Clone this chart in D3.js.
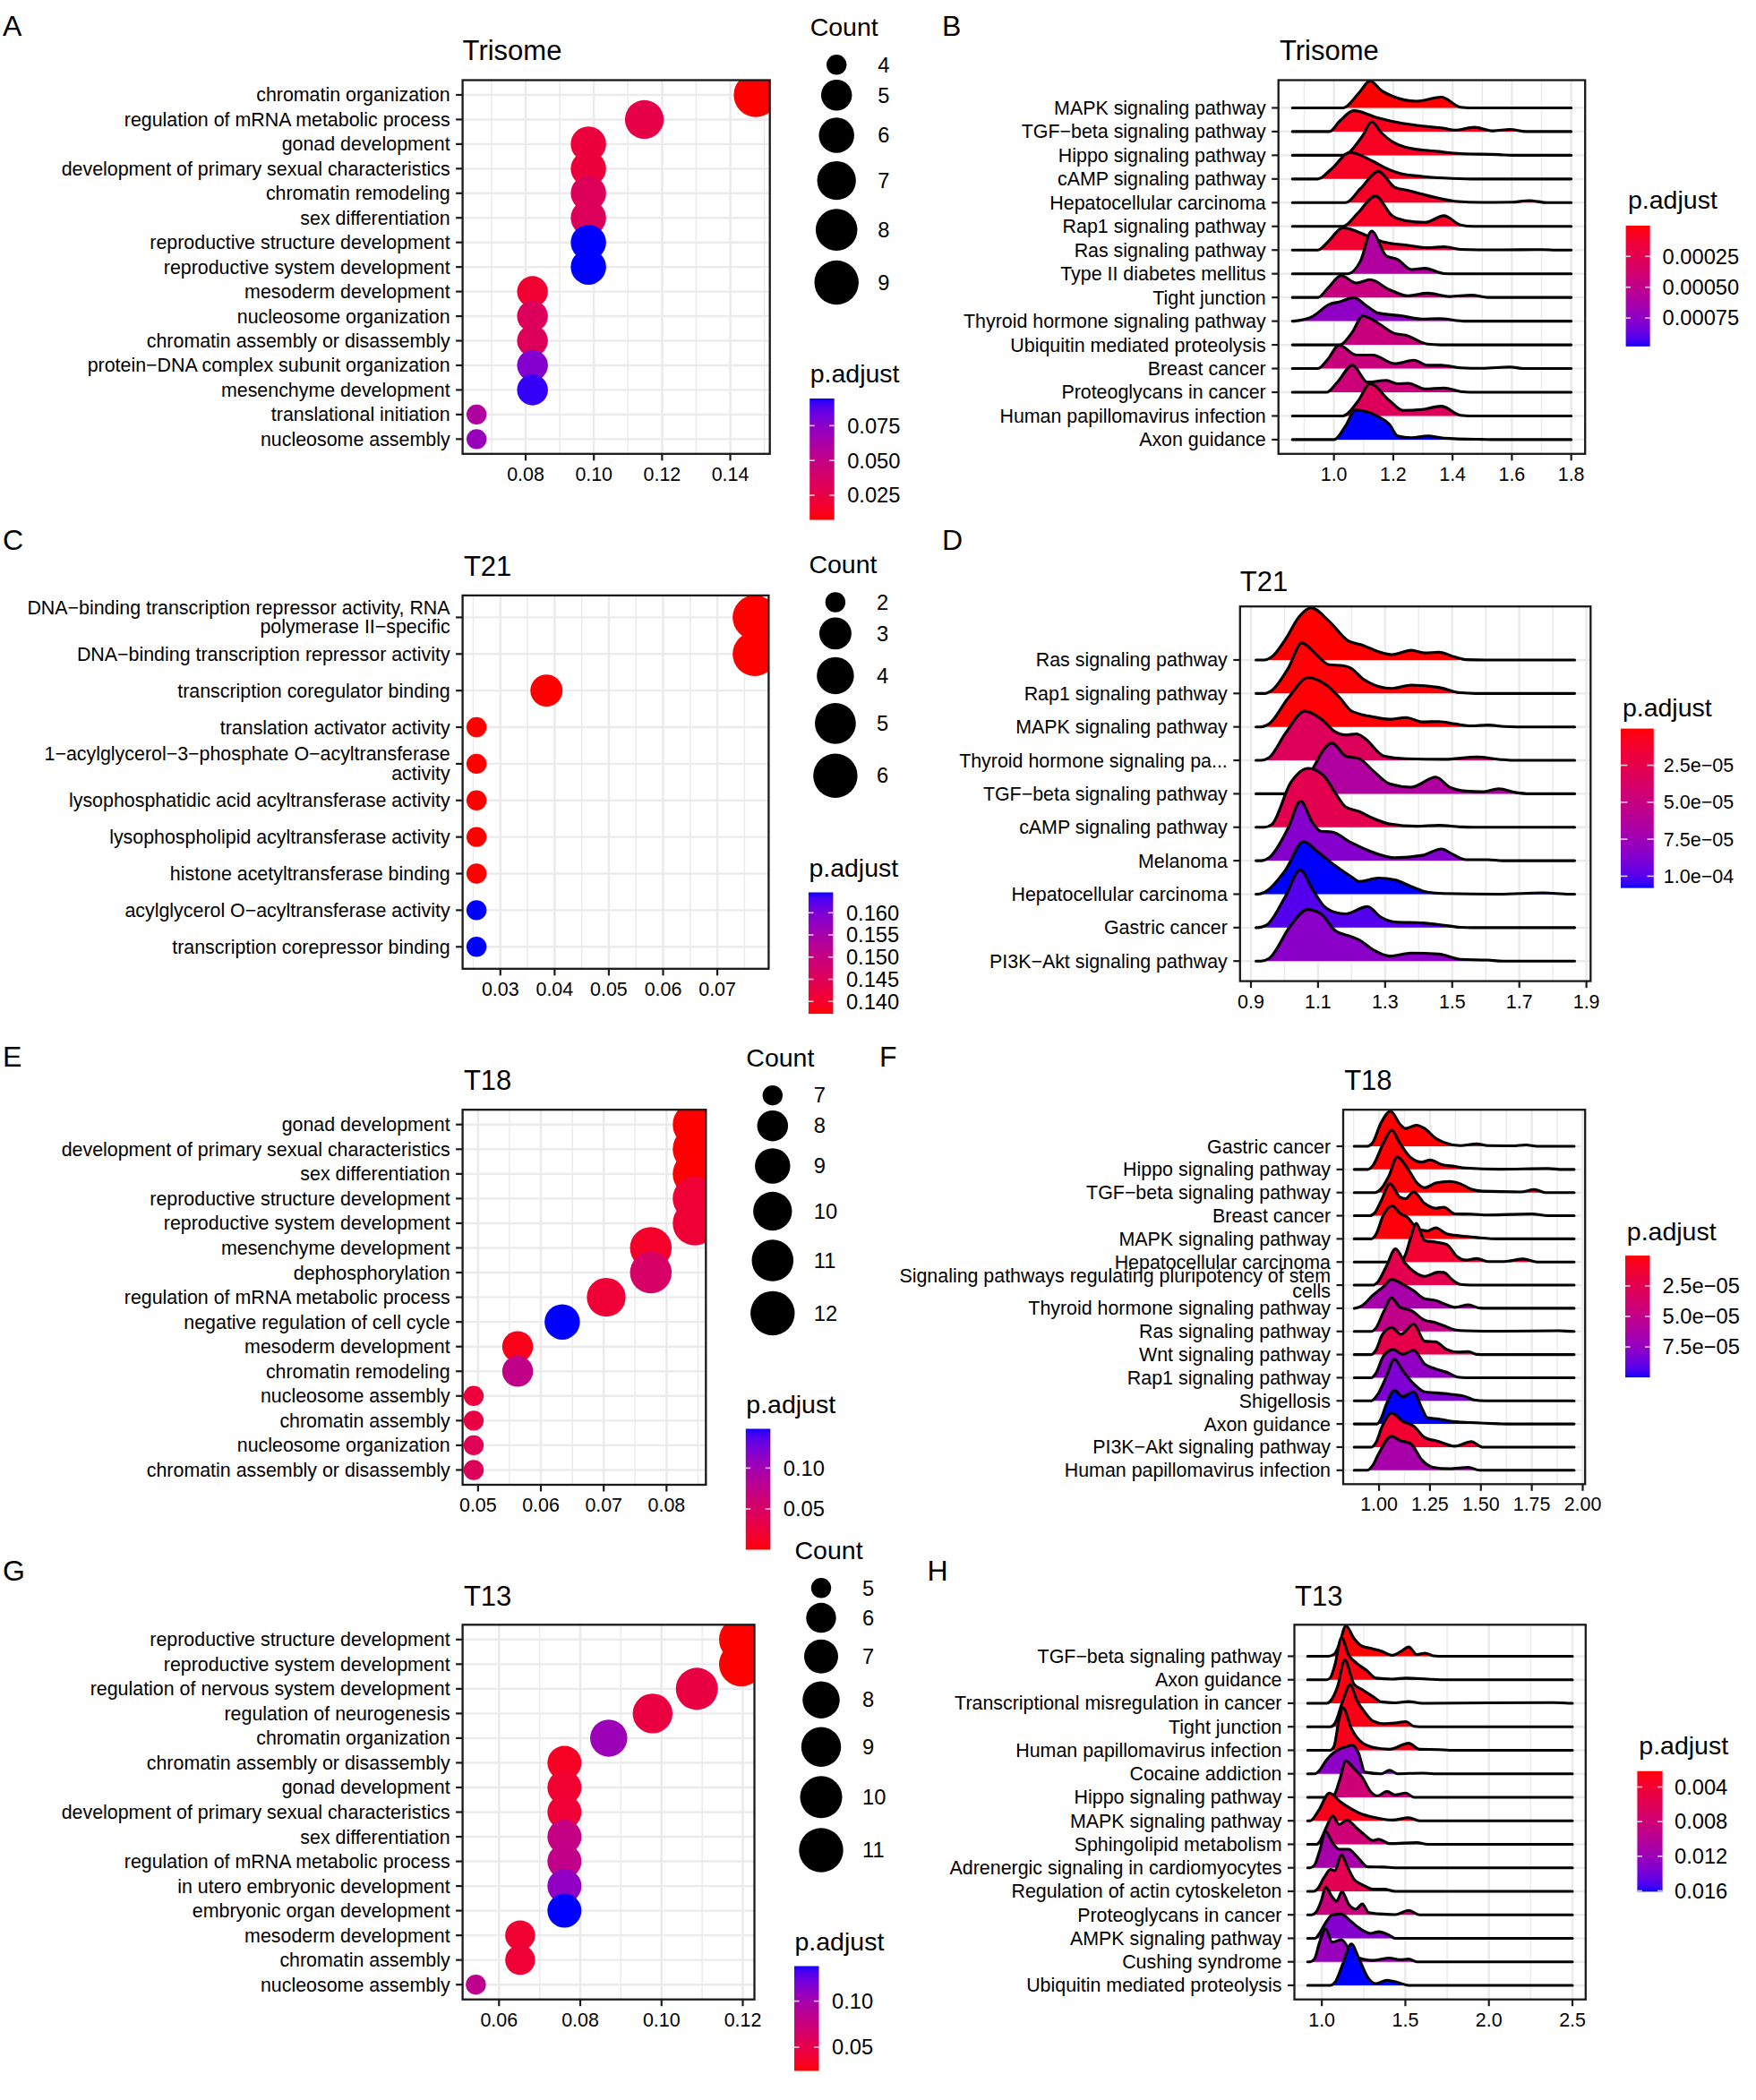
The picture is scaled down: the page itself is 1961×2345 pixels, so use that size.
<!DOCTYPE html>
<html>
<head>
<meta charset="utf-8">
<script src="https://cdnjs.cloudflare.com/ajax/libs/d3/7.8.5/d3.min.js"></script>
<style>html,body{margin:0;padding:0;background:#fff;}svg{display:block;}</style>
</head>
<body>
<script>
// ================= DATA =================
// ---- A: Trisome GO dotplot ----
const trisomeGoTerms = ["chromatin organization","regulation of mRNA metabolic process","gonad development","development of primary sexual characteristics","chromatin remodeling","sex differentiation","reproductive structure development","reproductive system development","mesoderm development","nucleosome organization","chromatin assembly or disassembly","protein\u2212DNA complex subunit organization","mesenchyme development","translational initiation","nucleosome assembly"];
const trisomeGoRatio = [0.1475,0.1148,0.0984,0.0984,0.0984,0.0984,0.0984,0.0984,0.0820,0.0820,0.0820,0.0820,0.0820,0.0656,0.0656];
const trisomeGoCount = [9,7,6,6,6,6,6,6,5,5,5,5,5,4,4];
const trisomeGoPadj = [0.0074,0.0266,0.0222,0.0222,0.0335,0.0335,0.0945,0.0945,0.0187,0.0335,0.0335,0.0771,0.0919,0.0597,0.0701];
const trisomeGoTicks = [0.08,0.10,0.12,0.14];
const trisomeGoCountBreaks = [4,5,6,7,8,9];
const trisomeGoPadjBreaks = [0.025,0.05,0.075];
const trisomeGoPadjLabels = ["0.025","0.050","0.075"];

// ---- B: Trisome KEGG ridgeplot ----
const trisomeKeggPathways = ["MAPK signaling pathway","TGF\u2212beta signaling pathway","Hippo signaling pathway","cAMP signaling pathway","Hepatocellular carcinoma","Rap1 signaling pathway","Ras signaling pathway","Type II diabetes mellitus","Tight junction","Thyroid hormone signaling pathway","Ubiquitin mediated proteolysis","Breast cancer","Proteoglycans in cancer","Human papillomavirus infection","Axon guidance"];
const trisomeKeggPadj = [0.000001,0.00005,0.00007,0.00008,0.00009,0.00008,0.00013,0.00059,0.00046,0.00074,0.00044,0.00044,0.00042,0.00029,0.00098];
const trisomeKeggRange = [0.86,1.80];
const trisomeKeggDensity = [
 [[1.03,0],[1.085,0.64],[1.122,1.14],[1.159,0.74],[1.196,0.5],[1.279,0.28],[1.362,0.45],[1.427,0.03],[1.46,0]],
 [[0.985,0],[1.02,0.45],[1.067,0.88],[1.15,0.57],[1.196,0.43],[1.279,0.26],[1.371,0.14],[1.408,0.06],[1.473,0.18],[1.538,0.03],[1.593,0.09],[1.648,0]],
 [[1.03,0],[1.098,0.85],[1.127,1.41],[1.16,0.95],[1.196,0.58],[1.242,0.34],[1.353,0.16],[1.427,0.07],[1.556,0.03],[1.6,0]],
 [[0.946,0],[0.99,0.4],[1.054,1.12],[1.131,0.75],[1.168,0.5],[1.224,0.23],[1.297,0.11],[1.371,0.04],[1.464,0]],
 [[1.039,0],[1.09,0.6],[1.15,1.32],[1.205,0.65],[1.251,0.51],[1.316,0.3],[1.408,0.06],[1.5,0.01],[1.6,0.02],[1.658,0.09],[1.72,0]],
 [[1.03,0],[1.08,0.55],[1.14,1.28],[1.196,0.45],[1.242,0.24],[1.307,0.17],[1.371,0.45],[1.427,0.06],[1.47,0]],
 [[0.946,0],[0.98,0.35],[1.03,0.94],[1.113,0.6],[1.168,0.34],[1.251,0.2],[1.316,0.1],[1.371,0.14],[1.427,0.03],[1.55,0.01],[1.704,0.02],[1.75,0]],
 [[1.048,0],[1.09,0.55],[1.127,1.8],[1.177,0.75],[1.214,0.61],[1.261,0.18],[1.307,0.23],[1.371,0.01],[1.41,0]],
 [[0.946,0],[0.98,0.4],[1.024,0.92],[1.076,0.61],[1.122,0.75],[1.187,0.33],[1.251,0.07],[1.316,0.18],[1.39,0.04],[1.464,0.1],[1.519,0]],
 [[0.87,0.01],[0.928,0.2],[0.983,0.7],[1.02,0.82],[1.067,0.99],[1.113,0.62],[1.15,0.34],[1.224,0.23],[1.297,0.09],[1.353,0.11],[1.445,0]],
 [[1.02,0],[1.06,0.5],[1.098,1.22],[1.15,0.91],[1.205,0.48],[1.242,0.41],[1.316,0.03],[1.36,0]],
 [[0.946,0],[0.98,0.4],[1.017,0.99],[1.076,0.57],[1.131,0.57],[1.205,0.21],[1.27,0.35],[1.316,0.14],[1.362,0.14],[1.427,0.03],[1.5,0.01],[1.593,0.07],[1.64,0]],
 [[0.975,0],[1.01,0.4],[1.063,1.14],[1.113,0.43],[1.177,0.5],[1.214,0.36],[1.251,0.38],[1.307,0.14],[1.371,0.18],[1.427,0.03],[1.46,0]],
 [[1.03,0],[1.08,0.6],[1.122,1.36],[1.187,0.65],[1.233,0.23],[1.297,0.27],[1.362,0.41],[1.427,0.03],[1.46,0]],
 [[1.0,0],[1.04,0.6],[1.072,1.25],[1.15,0.97],[1.187,0.65],[1.214,0.16],[1.261,0.08],[1.316,0.16],[1.371,0.06],[1.5,0.01],[1.55,0]]
];
const trisomeKeggTicks = [1.0,1.2,1.4,1.6,1.8];
const trisomeKeggPadjBreaks = [0.00025,0.0005,0.00075];
const trisomeKeggPadjLabels = ["0.00025","0.00050","0.00075"];

// ---- C: T21 GO dotplot ----
const t21GoTerms = ["DNA\u2212binding transcription repressor activity, RNA\npolymerase II\u2212specific","DNA\u2212binding transcription repressor activity","transcription coregulator binding","translation activator activity","1\u2212acylglycerol\u22123\u2212phosphate O\u2212acyltransferase\nactivity","lysophosphatidic acid acyltransferase activity","lysophospholipid acyltransferase activity","histone acetyltransferase binding","acylglycerol O\u2212acyltransferase activity","transcription corepressor binding"];
const t21GoRatio = [0.0769,0.0769,0.0385,0.0256,0.0256,0.0256,0.0256,0.0256,0.0256,0.0256];
const t21GoCount = [6,6,3,2,2,2,2,2,2,2];
const t21GoPadj = [0.1372,0.1372,0.1372,0.1372,0.1372,0.1372,0.1372,0.1372,0.1646,0.1646];
const t21GoTicks = [0.03,0.04,0.05,0.06,0.07];
const t21GoCountBreaks = [2,3,4,5,6];
const t21GoPadjBreaks = [0.14,0.145,0.15,0.155,0.16];
const t21GoPadjLabels = ["0.140","0.145","0.150","0.155","0.160"];

// ---- D: T21 KEGG ridgeplot ----
const t21KeggPathways = ["Ras signaling pathway","Rap1 signaling pathway","MAPK signaling pathway","Thyroid hormone signaling pa...","TGF\u2212beta signaling pathway","cAMP signaling pathway","Melanoma","Hepatocellular carcinoma","Gastric cancer","PI3K\u2212Akt signaling pathway"];
const t21KeggPadj = [0.0000002,0.000001,0.000001,0.000032,0.000065,0.000027,0.000086,0.000108,0.000100,0.000084];
const t21KeggRange = [0.915,1.865];
const t21KeggDensity = [
 [[0.94,0],[0.962,0.09],[1.003,0.62],[1.044,1.30],[1.079,1.56],[1.133,1.16],[1.190,0.57],[1.231,0.45],[1.280,0.25],[1.321,0.16],[1.378,0.29],[1.419,0.21],[1.460,0.23],[1.508,0.09],[1.541,0.01],[1.6,0]],
 [[0.94,0],[0.962,0.09],[1.011,0.75],[1.052,1.51],[1.092,1.19],[1.133,0.86],[1.174,0.83],[1.199,0.75],[1.231,0.46],[1.280,0.21],[1.321,0.15],[1.378,0.25],[1.460,0.18],[1.525,0.02],[1.57,0]],
 [[0.93,0],[0.954,0.09],[1.011,0.86],[1.071,1.47],[1.125,1.25],[1.166,0.86],[1.199,0.48],[1.264,0.30],[1.313,0.23],[1.362,0.28],[1.411,0.15],[1.460,0.16],[1.508,0.09],[1.557,0.03],[1.606,0.06],[1.655,0.01],[1.69,0]],
 [[0.93,0],[0.954,0.08],[1.003,0.81],[1.060,1.47],[1.109,1.24],[1.150,0.86],[1.182,0.76],[1.215,0.79],[1.239,0.66],[1.296,0.13],[1.362,0.05],[1.476,0.03],[1.574,0.10],[1.639,0.03],[1.68,0]],
 [[1.0,0],[1.044,0.3],[1.084,0.75],[1.117,1.32],[1.141,1.52],[1.182,1.13],[1.223,1.05],[1.264,0.69],[1.313,0.30],[1.378,0.2],[1.451,0.5],[1.492,0.2],[1.541,0.08],[1.590,0.06],[1.639,0.15],[1.688,0.04],[1.73,0]],
 [[0.94,0],[0.962,0.08],[1.019,1.34],[1.071,1.76],[1.117,1.54],[1.150,1.05],[1.182,0.61],[1.223,0.47],[1.264,0.27],[1.313,0.10],[1.394,0.03],[1.460,0.06],[1.525,0.01],[1.56,0]],
 [[0.93,0],[0.954,0.09],[1.011,0.98],[1.048,1.78],[1.084,1.13],[1.109,0.88],[1.141,0.86],[1.199,0.54],[1.264,0.25],[1.329,0.09],[1.411,0.16],[1.468,0.35],[1.500,0.20],[1.541,0.03],[1.606,0.03],[1.65,0]],
 [[0.92,0],[0.946,0.09],[1.003,0.72],[1.057,1.57],[1.101,1.25],[1.150,0.86],[1.199,0.52],[1.223,0.38],[1.280,0.48],[1.329,0.43],[1.378,0.23],[1.427,0.06],[1.476,0.02],[1.639,0.0],[1.770,0.04],[1.85,0]],
 [[0.92,0],[0.946,0.07],[1.003,0.94],[1.047,1.72],[1.084,1.14],[1.117,0.65],[1.150,0.46],[1.182,0.41],[1.247,0.63],[1.288,0.31],[1.329,0.17],[1.411,0.14],[1.476,0.07],[1.525,0.01],[1.56,0]],
 [[0.93,0],[0.954,0.08],[1.019,1.07],[1.068,1.54],[1.109,1.41],[1.150,0.92],[1.199,0.73],[1.223,0.63],[1.264,0.34],[1.313,0.15],[1.378,0.24],[1.460,0.21],[1.525,0.05],[1.606,0.03],[1.65,0]]
];
const t21KeggTicks = [0.9,1.1,1.3,1.5,1.7,1.9];
const t21KeggPadjBreaks = [0.000025,0.00005,0.000075,0.0001];
const t21KeggPadjLabels = ["2.5e\u221205","5.0e\u221205","7.5e\u221205","1.0e\u221204"];

// ---- E: T18 GO dotplot ----
const t18GoTerms = ["gonad development","development of primary sexual characteristics","sex differentiation","reproductive structure development","reproductive system development","mesenchyme development","dephosphorylation","regulation of mRNA metabolic process","negative regulation of cell cycle","mesoderm development","chromatin remodeling","nucleosome assembly","chromatin assembly","nucleosome organization","chromatin assembly or disassembly"];
const t18GoRatio = [0.0845,0.0845,0.0845,0.0845,0.0845,0.0775,0.0775,0.0704,0.0634,0.0563,0.0563,0.0493,0.0493,0.0493,0.0493];
const t18GoCount = [12,12,12,12,12,11,11,10,9,8,8,7,7,7,7];
const t18GoPadj = [0.0002,0.0003,0.0006,0.0220,0.0225,0.0150,0.0520,0.0220,0.1480,0.0074,0.0740,0.0250,0.0300,0.0410,0.0440];
const t18GoTicks = [0.05,0.06,0.07,0.08];
const t18GoCountBreaks = [7,8,9,10,11,12];
const t18GoPadjBreaks = [0.05,0.10];
const t18GoPadjLabels = ["0.05","0.10"];

// ---- F: T18 KEGG ridgeplot ----
const t18KeggPathways = ["Gastric cancer","Hippo signaling pathway","TGF\u2212beta signaling pathway","Breast cancer","MAPK signaling pathway","Hepatocellular carcinoma","Signaling pathways regulating pluripotency of stem\ncells","Thyroid hormone signaling pathway","Ras signaling pathway","Wnt signaling pathway","Rap1 signaling pathway","Shigellosis","Axon guidance","PI3K\u2212Akt signaling pathway","Human papillomavirus infection"];
const t18KeggPadj = [0.0000001,0.000001,0.000001,0.000001,0.000002,0.000012,0.000025,0.000065,0.000050,0.000023,0.000075,0.000082,0.000100,0.000012,0.000065];
const t18KeggRange = [0.878,1.958];
const t18KeggDensity = [
 [[0.94,0],[0.968,0.15],[1.008,0.98],[1.057,1.52],[1.102,0.96],[1.129,0.77],[1.183,0.91],[1.224,0.77],[1.278,0.35],[1.318,0.17],[1.399,0.03],[1.480,0.11],[1.534,0.03],[1.655,0.02],[1.722,0.06],[1.776,0]],
 [[0.946,0],[0.968,0.15],[1.022,1.14],[1.062,1.70],[1.102,1.14],[1.156,0.51],[1.210,0.32],[1.251,0.41],[1.305,0.22],[1.372,0.13],[1.426,0.06],[1.588,0.01],[1.830,0.04],[1.9,0]],
 [[0.98,0],[1.008,0.15],[1.049,0.73],[1.089,1.54],[1.143,1.01],[1.183,0.45],[1.224,0.21],[1.278,0.41],[1.345,0.48],[1.399,0.38],[1.453,0.14],[1.507,0.06],[1.695,0.03],[1.763,0.13],[1.817,0]],
 [[0.954,0],[0.981,0.15],[1.008,0.6],[1.054,1.38],[1.102,0.81],[1.129,0.74],[1.170,1.03],[1.224,0.53],[1.278,0.32],[1.318,0.37],[1.372,0.08],[1.453,0.07],[1.534,0.03],[1.749,0.08],[1.83,0]],
 [[0.962,0],[0.985,0.2],[1.022,1.04],[1.065,1.43],[1.102,1.11],[1.143,0.9],[1.183,0.48],[1.237,0.34],[1.278,0.48],[1.332,0.22],[1.399,0.13],[1.480,0.06],[1.588,0]],
 [[1.1,0],[1.129,0.3],[1.156,1.07],[1.183,1.67],[1.224,0.93],[1.278,0.86],[1.332,0.76],[1.385,0.22],[1.426,0.08],[1.480,0.15],[1.534,0.02],[1.615,0.02],[1.709,0.13],[1.776,0]],
 [[0.97,0],[0.995,0.15],[1.035,0.8],[1.081,1.57],[1.129,0.94],[1.170,0.59],[1.224,0.38],[1.291,0.56],[1.318,0.55],[1.358,0.24],[1.399,0.03],[1.45,0]],
 [[0.885,0.01],[0.914,0.1],[0.968,0.55],[1.022,0.94],[1.062,1.25],[1.116,1.04],[1.170,0.76],[1.224,0.41],[1.278,0.34],[1.318,0.2],[1.372,0.04],[1.439,0.15],[1.493,0.01],[1.53,0]],
 [[0.962,0],[0.985,0.15],[1.022,0.84],[1.062,1.45],[1.102,1.05],[1.156,0.91],[1.224,0.49],[1.278,0.38],[1.318,0.25],[1.372,0.07],[1.426,0.03],[1.6,0.01],[1.884,0.03],[1.95,0]],
 [[0.962,0],[0.985,0.2],[1.016,0.86],[1.062,1.17],[1.108,0.88],[1.170,1.32],[1.224,0.58],[1.278,0.55],[1.332,0.22],[1.385,0.11],[1.439,0.13],[1.480,0.01],[1.52,0]],
 [[0.962,0],[0.985,0.2],[1.022,0.94],[1.070,1.22],[1.116,1.01],[1.170,1.19],[1.224,0.59],[1.278,0.38],[1.332,0.24],[1.385,0.03],[1.43,0]],
 [[0.962,0],[0.995,0.3],[1.035,1.03],[1.075,1.8],[1.116,1.31],[1.170,0.74],[1.224,0.39],[1.278,0.35],[1.345,0.29],[1.426,0.18],[1.466,0.04],[1.52,0]],
 [[0.99,0],[1.008,0.2],[1.035,0.83],[1.075,1.46],[1.116,1.18],[1.170,1.39],[1.210,0.69],[1.237,0.27],[1.291,0.22],[1.345,0.13],[1.453,0.06],[1.588,0.01],[1.64,0]],
 [[0.962,0],[0.985,0.2],[1.016,0.91],[1.062,1.47],[1.116,1.12],[1.170,0.91],[1.224,0.42],[1.291,0.25],[1.372,0.04],[1.453,0.24],[1.507,0],[1.55,0]],
 [[0.941,0],[0.968,0.2],[0.995,0.66],[1.062,1.47],[1.102,1.29],[1.156,1.15],[1.210,0.45],[1.264,0.13],[1.345,0.07],[1.439,0.13],[1.493,0],[1.54,0]]
];
const t18KeggTicks = [1.0,1.25,1.5,1.75,2.0];
const t18KeggPadjBreaks = [0.000025,0.00005,0.000075];
const t18KeggPadjLabels = ["2.5e\u221205","5.0e\u221205","7.5e\u221205"];

// ---- G: T13 GO dotplot ----
const t13GoTerms = ["reproductive structure development","reproductive system development","regulation of nervous system development","regulation of neurogenesis","chromatin organization","chromatin assembly or disassembly","gonad development","development of primary sexual characteristics","sex differentiation","regulation of mRNA metabolic process","in utero embryonic development","embryonic organ development","mesoderm development","chromatin assembly","nucleosome assembly"];
const t13GoRatio = [0.1196,0.1196,0.1087,0.0978,0.0870,0.0761,0.0761,0.0761,0.0761,0.0761,0.0761,0.0761,0.0652,0.0652,0.0543];
const t13GoCount = [11,11,10,9,8,7,7,7,7,7,7,7,6,6,5];
const t13GoPadj = [0.0243,0.0243,0.0470,0.0459,0.1039,0.0334,0.0391,0.0414,0.0789,0.0812,0.1096,0.1380,0.0391,0.0414,0.0834];
const t13GoTicks = [0.06,0.08,0.10,0.12];
const t13GoCountBreaks = [5,6,7,8,9,10,11];
const t13GoPadjBreaks = [0.05,0.10];
const t13GoPadjLabels = ["0.05","0.10"];

// ---- H: T13 KEGG ridgeplot ----
const t13KeggPathways = ["TGF\u2212beta signaling pathway","Axon guidance","Transcriptional misregulation in cancer","Tight junction","Human papillomavirus infection","Cocaine addiction","Hippo signaling pathway","MAPK signaling pathway","Sphingolipid metabolism","Adrenergic signaling in cardiomyocytes","Regulation of actin cytoskeleton","Proteoglycans in cancer","AMPK signaling pathway","Cushing syndrome","Ubiquitin mediated proteolysis"];
const t13KeggPadj = [0.00217,0.0026,0.0026,0.0027,0.0028,0.0129,0.0080,0.0029,0.0080,0.0112,0.0057,0.0084,0.0133,0.0122,0.0161];
const t13KeggRange = [0.915,2.5];
const t13KeggDensity = [
 [[1.04,0],[1.075,0.1],[1.105,0.52],[1.144,1.3],[1.193,0.75],[1.235,0.45],[1.291,0.34],[1.356,0.22],[1.422,0.04],[1.471,0.19],[1.520,0.4],[1.569,0.07],[1.618,0.13],[1.667,0.02],[1.732,0]],
 [[1.03,0],[1.052,0.1],[1.078,0.63],[1.118,1.79],[1.160,1.07],[1.209,0.70],[1.268,0.40],[1.324,0.07],[1.422,0.03],[1.503,0.07],[1.634,0.03],[1.73,0]],
 [[1.03,0],[1.052,0.1],[1.095,0.73],[1.137,1.84],[1.193,0.81],[1.242,0.58],[1.307,0.28],[1.356,0.06],[1.438,0.02],[1.520,0.07],[1.601,0.0],[2.386,0.03],[2.48,0]],
 [[1.05,0],[1.078,0.15],[1.127,1.13],[1.170,1.79],[1.209,1.13],[1.258,0.61],[1.307,0.24],[1.373,0.13],[1.438,0.16],[1.503,0.22],[1.552,0.02],[1.62,0]],
 [[1.05,0],[1.072,0.15],[1.105,1.39],[1.127,1.81],[1.176,0.94],[1.225,0.42],[1.307,0.12],[1.405,0.04],[1.520,0.3],[1.585,0.04],[1.699,0.03],[1.765,0]],
 [[0.96,0],[0.98,0.1],[1.029,0.6],[1.072,0.9],[1.111,1.07],[1.150,1.16],[1.183,1.22],[1.219,0.9],[1.258,0.07],[1.356,0.0],[1.405,0.15],[1.454,0.0],[1.601,0.03],[1.667,0]],
 [[1.05,0],[1.078,0.15],[1.105,0.7],[1.144,1.55],[1.193,1.22],[1.242,0.85],[1.291,0.25],[1.333,0.06],[1.389,0.25],[1.438,0.1],[1.503,0.18],[1.552,0],[1.6,0]],
 [[0.93,0],[0.98,0.43],[1.046,1.18],[1.111,0.81],[1.176,0.51],[1.225,0.33],[1.275,0.21],[1.324,0.13],[1.422,0.03],[1.520,0.13],[1.585,0],[1.63,0]],
 [[0.97,0],[0.99,0.15],[1.029,0.76],[1.065,1.21],[1.105,0.84],[1.150,1.03],[1.209,0.69],[1.258,0.39],[1.307,0.16],[1.340,0.22],[1.405,0.03],[1.569,0.07],[1.634,0]],
 [[0.93,0],[0.955,0.1],[0.987,0.72],[1.023,1.54],[1.062,1.09],[1.105,0.79],[1.160,0.79],[1.209,0.49],[1.275,0.04],[1.373,0.03],[1.438,0]],
 [[0.95,0],[0.974,0.1],[1.013,0.58],[1.052,0.93],[1.078,0.88],[1.118,1.55],[1.150,1.1],[1.193,0.51],[1.242,0.28],[1.307,0.09],[1.373,0.09],[1.438,0]],
 [[0.94,0],[0.964,0.1],[0.997,0.61],[1.023,1.18],[1.062,0.76],[1.088,0.58],[1.121,0.99],[1.160,0.46],[1.203,0.24],[1.242,0.46],[1.281,0.09],[1.340,0.04],[1.438,0.01],[1.520,0.19],[1.585,0],[1.63,0]],
 [[0.96,0],[0.98,0.15],[1.029,0.73],[1.062,1.0],[1.118,1.03],[1.160,0.81],[1.225,0.43],[1.291,0.21],[1.340,0.28],[1.405,0.13],[1.438,0.0],[1.48,0]],
 [[0.93,0],[0.954,0.1],[0.987,0.84],[1.023,1.4],[1.062,0.84],[1.118,0.94],[1.176,0.39],[1.242,0.12],[1.307,0.06],[1.405,0.16],[1.471,0.09],[1.520,0.12],[1.569,0],[1.62,0]],
 [[1.05,0],[1.078,0.12],[1.127,0.94],[1.176,1.76],[1.225,1.09],[1.275,0.34],[1.324,0.07],[1.389,0.22],[1.454,0.12],[1.520,0],[1.57,0]]
];
const t13KeggTicks = [1.0,1.5,2.0,2.5];
const t13KeggPadjBreaks = [0.004,0.008,0.012,0.016];
const t13KeggPadjLabels = ["0.004","0.008","0.012","0.016"];

// ================= LAYOUT =================
const LA = {box:[516.6,859.7,89.5,506.8], tag:[3,39.5,"A"], title:[516.6,67,"Trisome"], countTitleY:40, padjTitleY:427, barH:135.5, lineH:21.3, mlShift:0, fmt:".2f"};
const LC = {box:[516.6,858.4,664.9,1081.8], tag:[3,613.6,"C"], title:[517.9,642.7,"T21"], countTitleY:640.2, padjTitleY:978.5, barH:135.6, lineH:21.3, mlShift:-0.5, fmt:".2f"};
const LE = {box:[516.6,788.3,1239.2,1658], tag:[3,1190.9,"E"], title:[517.9,1217.4,"T18"], countTitleY:1190.9, padjTitleY:1577.5, barH:135, lineH:21.3, mlShift:0, fmt:".2f"};
const LG = {box:[516.6,842.5,1814.3,2232.7], tag:[3,1764.5,"G"], title:[517.9,1792.7,"T13"], countTitleY:1741, padjTitleY:2177.5, barH:117, lineH:21.3, mlShift:0, fmt:".2f"};
const LB = {box:[1427.7,1770.2,89.5,506.8], topPad:1.17, tag:[1052,39.5,"B"], title:[1429,67,"Trisome"], legTitle:[1818,233.3], bar:[1815.6,252,27,134.8], labX:1856.6, labFs:23.7, lineH:17, mlShift:0, fmt:".1f"};
const LD = {box:[1384.8,1776.3,677.2,1095.6], topPad:1.6, tag:[1052,613.6,"D"], title:[1384.8,659.8,"T21"], legTitle:[1811.9,800.1], bar:[1810,813.6,36.8,178], labX:1857.8, labFs:21.5, lineH:17, mlShift:0, fmt:".1f"};
const LF = {box:[1500,1770.2,1239.2,1657.3], topPad:1.58, tag:[982,1190.9,"F"], title:[1501.2,1217.4,"T18"], legTitle:[1816.8,1384.6], bar:[1815,1402.1,27.5,136], labX:1856.6, labFs:23.7, lineH:16.6, mlShift:-1.8, fmt:".2f"};
const LH = {box:[1445.5,1770.8,1814.3,2232.7], topPad:1.34, tag:[1035.5,1765.3,"H"], title:[1446.1,1792.7,"T13"], legTitle:[1830.3,1959.4], bar:[1828.4,1977.8,28.2,134.6], labX:1870, labFs:23.7, lineH:17, mlShift:0, fmt:".1f"};

// ================= DRAWING =================
const FONT = '"Liberation Sans", Arial, Helvetica, sans-serif';
const svg = d3.select("body").append("svg").attr("width",1961).attr("height",2345).style("font-family",FONT);
svg.append("rect").attr("width",1961).attr("height",2345).attr("fill","#fff");
const defs = svg.append("defs");
const AX_FS=21.4, TITLE_FS=31, LT_FS=28.5, LEG_FS=23.7, TAG_FS=32;
const GRID="#EBEBEB", INK="#1a1a1a";
const R_MIN=11.2, R_MAX=24.7;
let uid=0;

function pad5(ext){const s=(ext[1]-ext[0])*0.05; return [ext[0]-s, ext[1]+s];}
function minorTicks(ticks, dom){
  const st=ticks[1]-ticks[0];
  const m=ticks.map(t=>t-st/2).concat([ticks[ticks.length-1]+st/2]);
  return m.filter(v=>v>dom[0]&&v<dom[1]);
}
function pColor(ext){
  return d3.scaleLinear().domain(ext).range(["#FF0000","#0000FF"]).interpolate(d3.interpolateLab).clamp(true);
}
function tagAndTitle(L){
  svg.append("text").attr("x",L.tag[0]).attr("y",L.tag[1]).attr("font-size",TAG_FS).attr("fill","#000").text(L.tag[2]);
  svg.append("text").attr("x",L.title[0]).attr("y",L.title[1]).attr("font-size",TITLE_FS).attr("fill","#000").text(L.title[2]);
}
function background(g,L,x,xTicks,y,cats){
  const [x0,x1,y0,y1]=L.box;
  g.append("rect").attr("x",x0).attr("y",y0).attr("width",x1-x0).attr("height",y1-y0).attr("fill","#fff");
  minorTicks(xTicks,x.domain()).forEach(v=>g.append("line").attr("x1",x(v)).attr("x2",x(v)).attr("y1",y0).attr("y2",y1).attr("stroke",GRID).attr("stroke-width",1.5));
  xTicks.forEach(v=>g.append("line").attr("x1",x(v)).attr("x2",x(v)).attr("y1",y0).attr("y2",y1).attr("stroke",GRID).attr("stroke-width",2.6));
  cats.forEach(c=>g.append("line").attr("x1",x0).attr("x2",x1).attr("y1",y(c)).attr("y2",y(c)).attr("stroke",GRID).attr("stroke-width",2.4));
}
function clipGroup(g,L){
  const [x0,x1,y0,y1]=L.box;
  const id="clip"+(uid++);
  defs.append("clipPath").attr("id",id).append("rect").attr("x",x0).attr("y",y0).attr("width",x1-x0).attr("height",y1-y0);
  return g.append("g").attr("clip-path",`url(#${id})`);
}
function axes(g,L,x,xTicks,y,cats){
  const [x0,x1,y0,y1]=L.box;
  g.append("rect").attr("x",x0).attr("y",y0).attr("width",x1-x0).attr("height",y1-y0).attr("fill","none").attr("stroke",INK).attr("stroke-width",2.3);
  const f=d3.format(L.fmt);
  xTicks.forEach(v=>{
    g.append("line").attr("x1",x(v)).attr("x2",x(v)).attr("y1",y1).attr("y2",y1+7.5).attr("stroke",INK).attr("stroke-width",2.2);
    g.append("text").attr("x",x(v)).attr("y",y1+30).attr("text-anchor","middle").attr("font-size",AX_FS).attr("fill","#000").text(f(v));
  });
  cats.forEach(c=>{
    const yy=y(c);
    g.append("line").attr("x1",x0-7.5).attr("x2",x0).attr("y1",yy).attr("y2",yy).attr("stroke",INK).attr("stroke-width",2.2);
    const lines=c.split("\n");
    const shift = lines.length>1 ? L.mlShift : 0;
    lines.forEach((ln,k)=>{
      g.append("text").attr("x",x0-14).attr("y",yy+shift+0.35*AX_FS+(k-(lines.length-1)/2)*L.lineH)
        .attr("text-anchor","end").attr("font-size",AX_FS).attr("fill","#000").text(ln);
    });
  });
}
function colorbar(col,pExt,breaks,labels,reversed,bar,titlePos,labX,labFs){
  const [bx,by,bw,bh]=bar;
  const pos=d3.scaleLinear().domain(reversed?pExt:[pExt[1],pExt[0]]).range([by,by+bh]);
  const id="grad"+(uid++);
  const grad=defs.append("linearGradient").attr("id",id).attr("x1",0).attr("y1",0).attr("x2",0).attr("y2",1);
  d3.range(0,1.0001,0.02).forEach(o=>grad.append("stop").attr("offset",o).attr("stop-color",col(pos.invert(by+o*bh))));
  svg.append("text").attr("x",titlePos[0]).attr("y",titlePos[1]).attr("font-size",LT_FS).attr("fill","#000").text("p.adjust");
  svg.append("rect").attr("x",bx).attr("y",by).attr("width",bw).attr("height",bh).attr("fill",`url(#${id})`);
  const tl=bw/5;
  breaks.forEach((b,i)=>{
    const yy=pos(b);
    svg.append("line").attr("x1",bx).attr("x2",bx+tl).attr("y1",yy).attr("y2",yy).attr("stroke","#fff").attr("stroke-opacity",0.8).attr("stroke-width",1.6);
    svg.append("line").attr("x1",bx+bw-tl).attr("x2",bx+bw).attr("y1",yy).attr("y2",yy).attr("stroke","#fff").attr("stroke-opacity",0.8).attr("stroke-width",1.6);
    svg.append("text").attr("x",labX).attr("y",yy+0.35*labFs).attr("font-size",labFs).attr("fill","#000").text(labels[i]);
  });
}

function dotPanel(L,terms,ratio,count,padj,xTicks,countBreaks,padjBreaks,padjLabels){
  tagAndTitle(L);
  const g=svg.append("g");
  const [x0,x1,y0,y1]=L.box;
  const x=d3.scaleLinear().domain(pad5(d3.extent(ratio))).range([x0,x1]);
  const y=d3.scalePoint().domain(terms).range([y0,y1]).padding(0.6);
  const cN=d3.scaleLinear().domain(d3.extent(count)).range([0,1]);
  const rS=d3.scaleLinear().domain([0,1]).range([R_MIN,R_MAX]);
  const r=c=>rS(Math.sqrt(cN(c)));
  const pExt=d3.extent(padj);
  const col=pColor(pExt);
  background(g,L,x,xTicks,y,terms);
  const m=clipGroup(g,L);
  terms.forEach((t,i)=>m.append("circle").attr("cx",x(ratio[i])).attr("cy",y(t)).attr("r",r(count[i])).attr("fill",col(padj[i])));
  axes(g,L,x,xTicks,y,terms);
  svg.append("text").attr("x",x1+45).attr("y",L.countTitleY).attr("font-size",LT_FS).attr("fill","#000").text("Count");
  let cy=L.countTitleY+32.3;
  countBreaks.forEach((b,i)=>{
    if(i>0){const hp=1.278*2*r(countBreaks[i-1])-2.4, h=1.278*2*r(b)-2.4; cy+=(hp+h)/2;}
    svg.append("circle").attr("cx",x1+74.5).attr("cy",cy).attr("r",r(b)).attr("fill","#000");
    svg.append("text").attr("x",x1+120.5).attr("y",cy+0.35*LEG_FS).attr("font-size",LEG_FS).attr("fill","#000").text(b);
  });
  colorbar(col,pExt,padjBreaks,padjLabels,false,[x1+44.5,L.padjTitleY+18,27.5,L.barH],[x1+45,L.padjTitleY],x1+86.5,LEG_FS);
}

function ridgePanel(L,names,padj,dens,range,xTicks,padjBreaks,padjLabels){
  tagAndTitle(L);
  const g=svg.append("g");
  const [x0,x1,y0,y1]=L.box;
  const x=d3.scaleLinear().domain(pad5(range)).range([x0,x1]);
  const n=names.length;
  const step=(y1-y0)/(n-1+L.topPad+0.6);
  const y=d3.scalePoint().domain(names).range([y0+L.topPad*step,y1-0.6*step]);
  const hS=d3.scaleLinear().domain([0,1]).range([0,step]);
  const pExt=d3.extent(padj);
  const col=pColor(pExt);
  background(g,L,x,xTicks,y,names);
  const m=clipGroup(g,L);
  names.forEach((nm,i)=>{
    const base=y(nm);
    const pts=[[range[0],0]].concat(dens[i].filter(d=>d[0]>range[0]&&d[0]<range[1]),[[range[1],0]]);
    const area=d3.area().x(d=>x(d[0])).y0(base).y1(d=>base-hS(d[1])).curve(d3.curveMonotoneX);
    const line=d3.line().x(d=>x(d[0])).y(d=>base-hS(d[1])).curve(d3.curveMonotoneX);
    m.append("path").attr("d",area(pts)).attr("fill",col(padj[i]));
    m.append("path").attr("d",line(pts)).attr("fill","none").attr("stroke","#000").attr("stroke-width",3.1).attr("stroke-linejoin","round").attr("stroke-linecap","round");
  });
  axes(g,L,x,xTicks,y,names);
  colorbar(col,pExt,padjBreaks,padjLabels,true,L.bar,L.legTitle,L.labX,L.labFs);
}

dotPanel(LA,trisomeGoTerms,trisomeGoRatio,trisomeGoCount,trisomeGoPadj,trisomeGoTicks,trisomeGoCountBreaks,trisomeGoPadjBreaks,trisomeGoPadjLabels);
ridgePanel(LB,trisomeKeggPathways,trisomeKeggPadj,trisomeKeggDensity,trisomeKeggRange,trisomeKeggTicks,trisomeKeggPadjBreaks,trisomeKeggPadjLabels);
dotPanel(LC,t21GoTerms,t21GoRatio,t21GoCount,t21GoPadj,t21GoTicks,t21GoCountBreaks,t21GoPadjBreaks,t21GoPadjLabels);
ridgePanel(LD,t21KeggPathways,t21KeggPadj,t21KeggDensity,t21KeggRange,t21KeggTicks,t21KeggPadjBreaks,t21KeggPadjLabels);
dotPanel(LE,t18GoTerms,t18GoRatio,t18GoCount,t18GoPadj,t18GoTicks,t18GoCountBreaks,t18GoPadjBreaks,t18GoPadjLabels);
ridgePanel(LF,t18KeggPathways,t18KeggPadj,t18KeggDensity,t18KeggRange,t18KeggTicks,t18KeggPadjBreaks,t18KeggPadjLabels);
dotPanel(LG,t13GoTerms,t13GoRatio,t13GoCount,t13GoPadj,t13GoTicks,t13GoCountBreaks,t13GoPadjBreaks,t13GoPadjLabels);
ridgePanel(LH,t13KeggPathways,t13KeggPadj,t13KeggDensity,t13KeggRange,t13KeggTicks,t13KeggPadjBreaks,t13KeggPadjLabels);
</script>
</body>
</html>
